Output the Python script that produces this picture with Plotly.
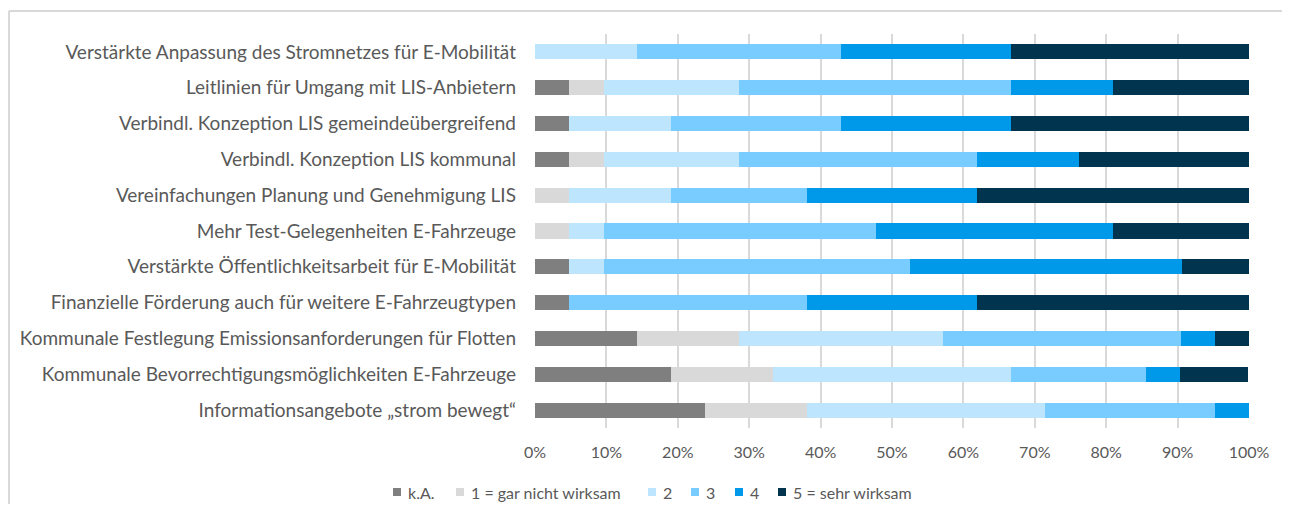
import plotly.graph_objects as go

categories = [
    "Verstärkte Anpassung des Stromnetzes für E-Mobilität",
    "Leitlinien für Umgang mit LIS-Anbietern",
    "Verbindl. Konzeption LIS gemeindeübergreifend",
    "Verbindl. Konzeption LIS kommunal",
    "Vereinfachungen Planung und Genehmigung LIS",
    "Mehr Test-Gelegenheiten E-Fahrzeuge",
    "Verstärkte Öffentlichkeitsarbeit für E-Mobilität",
    "Finanzielle Förderung auch für weitere E-Fahrzeugtypen",
    "Kommunale Festlegung Emissionsanforderungen für Flotten",
    "Kommunale Bevorrechtigungsmöglichkeiten E-Fahrzeuge",
    "Informationsangebote „strom bewegt“",
]

series_names = ["k.A.", "1 = gar nicht wirksam", "2", "3", "4", "5 = sehr wirksam"]

# percentages
ka     = [0.0, 4.8, 4.8, 4.8, 0.0, 0.0, 4.8, 4.8, 14.3, 19.0, 23.8]
s1     = [0.0, 4.8, 0.0, 4.8, 4.8, 4.8, 0.0, 0.0, 14.3, 14.3, 14.3]
s2     = [14.3, 19.0, 14.3, 19.0, 14.3, 4.8, 4.8, 0.0, 28.6, 33.3, 33.3]
s3     = [28.6, 38.1, 23.8, 33.3, 19.0, 38.1, 42.9, 33.3, 33.3, 19.0, 23.8]
s4     = [23.8, 14.3, 23.8, 14.3, 23.8, 33.3, 38.1, 23.8, 4.8, 4.8, 4.8]
s5     = [33.3, 19.0, 33.3, 23.8, 38.1, 19.0, 9.5, 38.1, 4.8, 9.5, 0.0]

colors = ["#7f7f7f", "#d9d9d9", "#bde6fe", "#78ccff", "#0098e8", "#00344f"]

tick_vals = [0, 10, 20, 30, 40, 50, 60, 70, 80, 90, 100]
tick_text = [f"{v}%" for v in tick_vals]

FONT = "Lato"
TXT = "#595959"

# layout geometry (page has 8px body offset)
W, H = 1274, 496
ML, MR, MT, MB = 527, 33, 26, 76
PW, PH = W - ML - MR, H - MT - MB
OX, OY = 8, 8  # body offset


def px_to_paper_x(px):
    return (px - OX - ML) / PW


def py_to_paper_y(py):
    return (OY + MT + PH - py) / PH


fig = go.Figure()
for name, vals, col in zip(series_names, [ka, s1, s2, s3, s4, s5], colors):
    fig.add_trace(go.Bar(
        y=categories, x=vals, name=name, orientation="h",
        marker=dict(color=col, line=dict(width=0)),
        hoverinfo="x+y+name", showlegend=False,
    ))

# chart-area border (only left and top edges visible in the frame)
bx, by = px_to_paper_x(9), py_to_paper_y(11)
shapes = [
    dict(type="line", xref="paper", yref="paper", x0=bx, x1=bx, y0=py_to_paper_y(520), y1=by,
         line=dict(color="#d9d9d9", width=2), layer="below"),
    dict(type="line", xref="paper", yref="paper", x0=bx, x1=px_to_paper_x(1300), y0=by, y1=by,
         line=dict(color="#d9d9d9", width=2), layer="below"),
]

# custom compact legend (Excel-style)
legend_square_px = [393, 456, 648, 691, 735, 778]
annotations = []
for name, col, sx in zip(series_names, colors, legend_square_px):
    shapes.append(dict(
        type="rect", xref="paper", yref="paper",
        x0=px_to_paper_x(sx), x1=px_to_paper_x(sx + 8),
        y0=py_to_paper_y(496), y1=py_to_paper_y(488),
        line=dict(width=0), fillcolor=col,
    ))
    annotations.append(dict(
        xref="paper", yref="paper", x=px_to_paper_x(sx + 13), y=py_to_paper_y(492),
        xanchor="left", yanchor="middle", text=name, showarrow=False,
        font=dict(size=16, color=TXT, family=FONT),
    ))

fig.update_layout(
    barmode="stack",
    width=W, height=H,
    margin=dict(l=ML, r=MR, t=MT, b=MB),
    paper_bgcolor="white", plot_bgcolor="white",
    bargap=0.58,
    font=dict(family=FONT, color=TXT, size=16),
    showlegend=False,
    shapes=shapes,
    annotations=annotations,
)

fig.update_xaxes(
    range=[0, 100], tickvals=tick_vals, ticktext=tick_text,
    showgrid=True, gridcolor="#d9d9d9", gridwidth=1.5,
    zeroline=False, showline=False,
    tickfont=dict(size=16, color=TXT, family=FONT), ticks="",
    ticklabelstandoff=13, automargin=False,
    fixedrange=True,
)
fig.update_yaxes(
    categoryorder="array", categoryarray=categories, autorange="reversed",
    showgrid=False, zeroline=False, showline=False,
    tickfont=dict(size=19, color=TXT, family=FONT), ticks="",
    ticklabelstandoff=18, automargin=False,
)

fig.write_html("out.html")
